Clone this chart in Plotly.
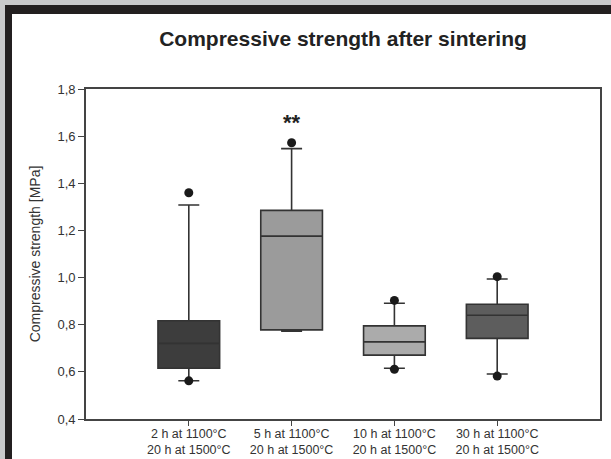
import plotly.graph_objects as go

categories = ["2 h at 1100°C<br>20 h at 1500°C", "5 h at 1100°C<br>20 h at 1500°C",
              "10 h at 1100°C<br>20 h at 1500°C", "30 h at 1100°C<br>20 h at 1500°C"]
positions = [0, 1, 2, 3]
q1 = [0.615, 0.778, 0.671, 0.742]
median = [0.721, 1.176, 0.727, 0.840]
q3 = [0.817, 1.285, 0.795, 0.887]
lower_fence = [0.562, 0.773, 0.615, 0.591]
upper_fence = [1.308, 1.547, 0.891, 0.994]
outlier_x = [0, 0, 1, 2, 2, 3, 3]
outlier_y = [1.360, 0.562, 1.572, 0.903, 0.611, 1.004, 0.582]
box_colors = ["#3d3d3d", "#9b9b9b", "#ababab", "#5d5d5d"]

W, H = 611, 459
L, R, T, B = 86, 600, 89, 419

fig = go.Figure()
for i in range(4):
    fig.add_trace(go.Box(
        x=[positions[i]], q1=[q1[i]], median=[median[i]], q3=[q3[i]],
        lowerfence=[lower_fence[i]], upperfence=[upper_fence[i]],
        width=0.6, whiskerwidth=0.34, fillcolor=box_colors[i],
        line=dict(color="#333333", width=1.6), boxpoints=False,
        showlegend=False, hoverinfo="skip"))

fig.add_trace(go.Scatter(x=outlier_x, y=outlier_y, mode="markers",
                         marker=dict(color="#1a1a1a", size=9), showlegend=False,
                         hoverinfo="skip"))

fig.add_annotation(x=1, y=1.66, text="<b>**</b>", showarrow=False,
                   font=dict(size=22, color="#222222", family="Liberation Sans, Arial"))

def px_x(p):
    return (p - L) / (R - L)

def px_y(p):
    return (B - p) / (B - T)

shapes = [
    dict(type="rect", xref="paper", yref="paper", x0=px_x(0), x1=px_x(W + 5),
         y0=px_y(-5), y1=px_y(5), fillcolor="#c9c9cb", line=dict(width=0), layer="below"),
    dict(type="rect", xref="paper", yref="paper", x0=px_x(-5), x1=px_x(5),
         y0=px_y(-5), y1=px_y(H + 5), fillcolor="#c9c9cb", line=dict(width=0), layer="below"),
    dict(type="rect", xref="paper", yref="paper", x0=px_x(5), x1=px_x(W + 5),
         y0=px_y(5), y1=px_y(14), fillcolor="#231f20", line=dict(width=0), layer="below"),
    dict(type="rect", xref="paper", yref="paper", x0=px_x(5), x1=px_x(12),
         y0=px_y(5), y1=px_y(H + 5), fillcolor="#231f20", line=dict(width=0), layer="below"),
]

fig.update_layout(
    width=W, height=H,
    margin=dict(l=L, r=W - R, t=T, b=H - B, pad=0),
    paper_bgcolor="white", plot_bgcolor="white",
    separators=",.",
    boxmode="overlay",
    font=dict(family="Liberation Sans, Arial", color="#333333", size=13),
    title=dict(text="<b>Compressive strength after sintering</b>", x=(L + R) / 2 / W,
               xanchor="center", y=1 - 39 / H, yanchor="middle", yref="container",
               font=dict(size=21, color="#222222")),
    shapes=shapes,
    xaxis=dict(range=[-1, 4], tickmode="array", tickvals=positions, ticktext=categories,
               showline=True, linecolor="#444444", linewidth=1.6, mirror=True,
               ticks="outside", ticklen=5, tickcolor="#444444", tickwidth=1.3,
               showgrid=False, zeroline=False, automargin=False, ticklabelstandoff=-3,
               tickfont=dict(size=12.5, color="#333333")),
    yaxis=dict(range=[0.4, 1.8], tickvals=[0.4, 0.6, 0.8, 1.0, 1.2, 1.4, 1.6, 1.8],
               tickformat=".1f", showline=True, linecolor="#444444", linewidth=1.6,
               mirror=True, ticks="outside", ticklen=6, tickcolor="#444444", tickwidth=1.3,
               showgrid=False, zeroline=False, automargin=False,
               tickfont=dict(size=13, color="#333333"),
               title=dict(text="Compressive strength [MPa]", font=dict(size=14, color="#333333"),
                          standoff=14)),
)

fig.write_html("out.html", config={"displayModeBar": False},
               post_script="document.body.style.margin='0';document.body.style.overflow='hidden';")
